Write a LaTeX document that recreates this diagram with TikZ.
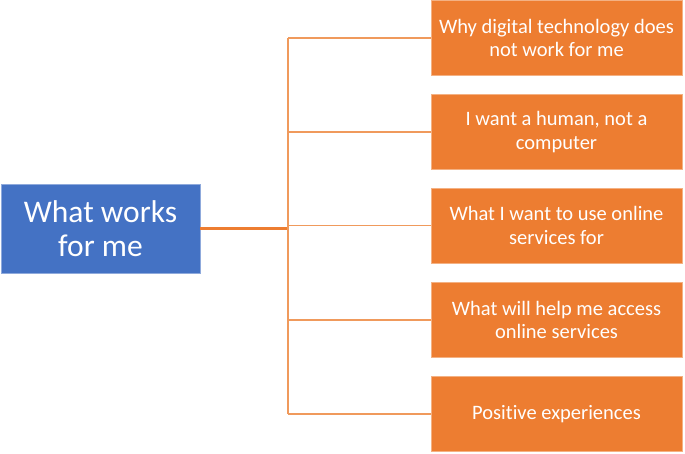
\documentclass[tikz,border=0pt]{standalone}
\usepackage{fontspec}
\setmainfont[Ligatures={NoCommon}]{Carlito}
\definecolor{bluebox}{HTML}{4472C4}
\definecolor{orangebox}{HTML}{ED7D31}
\definecolor{orangeline}{HTML}{F09A5C}
\begin{document}
\begin{tikzpicture}[x=1pt,y=-1pt,
  leftbox/.style={fill=bluebox, draw=bluebox!60!white, line width=0.6pt, minimum width=199pt, minimum height=89pt, text=white, font=\fontsize{31.5}{34}\selectfont, align=center, inner sep=0pt},
  obox/.style={fill=orangebox, draw=orangebox!60!white, line width=0.6pt, minimum width=251pt, minimum height=75pt, text=white, font=\fontsize{20.5}{23.5}\selectfont, align=center, inner sep=0pt},
  conn/.style={draw=orangeline, line width=1.3pt},
  trunk/.style={draw=orangebox, line width=2.4pt}]
\useasboundingbox (0,0) rectangle (685,454);
\node[leftbox] (L) at (100.5,228.5) {What works\\for me};
\node[obox] (B1) at (556.5,38) {Why digital technology does\\not work for me};
\node[obox] (B2) at (556.5,132) {I want a human, not a\\computer};
\node[obox] (B3) at (556.5,225.5) {What I want to use online\\services for};
\node[obox] (B4) at (556.5,320) {What will help me access\\online services};
\node[obox] (B5) at (556.5,414) {Positive experiences};
\coordinate (J) at (288,228.5);
\draw[trunk] (L.east) -- (J);
\draw[conn] (B1.west -| J) -- (B5.west -| J);
\foreach \b in {B1,B2,B3,B4,B5}{
  \draw[conn] (\b.west -| J) -- (\b.west);
}
\end{tikzpicture}
\end{document}
